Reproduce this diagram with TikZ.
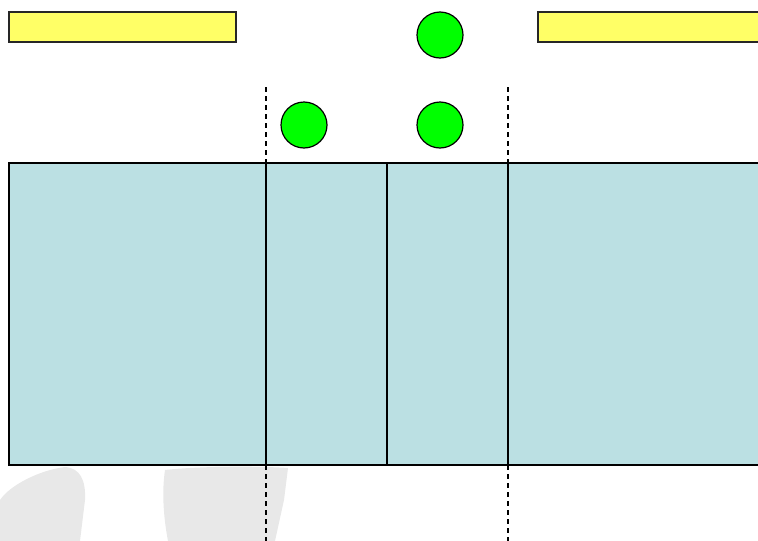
\documentclass[tikz,border=0pt]{standalone}
\begin{document}
\begin{tikzpicture}[x=1pt,y=-1pt,
  bar/.style={draw=black!85,line width=1.2pt,fill=barY},
  ball/.style={circle,draw=black,line width=1.2pt,fill=ballG,minimum size=46pt,inner sep=0pt},
  zone/.style={draw=black,line width=1.2pt,fill=zoneB},
  divider/.style={draw=black,line width=1.2pt},
  guide/.style={draw=black,line width=1.2pt,dash pattern=on 5pt off 4pt},
  blob/.style={fill=black!9,draw=none}]
\definecolor{barY}{HTML}{FFFF66}
\definecolor{ballG}{HTML}{00FF00}
\definecolor{zoneB}{HTML}{BBE0E3}
\useasboundingbox (0,0) rectangle (758,541);
\clip (0,0) rectangle (758,541);
% watermark blobs
\path[blob] (0,500) .. controls (10,485) and (40,470) .. (65,467) .. controls (80,468) and (86,480) .. (85,500) -- (80,541) -- (0,541) -- cycle;
\path[blob] (165,470) .. controls (200,466) and (260,466) .. (288,468) -- (284,500) -- (275,541) -- (168,541) .. controls (163,515) and (162,490) .. (165,470) -- cycle;
% yellow bars
\path[bar] (9,12) rectangle (236,42);
\path[bar] (538,12) rectangle (770,42);
% zones
\path[zone] (9,163) rectangle (770,465);
\coordinate (d1t) at (266,163); \coordinate (d1b) at (266,465);
\coordinate (d2t) at (387,163); \coordinate (d2b) at (387,465);
\coordinate (d3t) at (508,163); \coordinate (d3b) at (508,465);
\draw[divider] (d1t) -- (d1b);
\draw[divider] (d2t) -- (d2b);
\draw[divider] (d3t) -- (d3b);
% guides
\coordinate (g1u) at (266,87); \coordinate (g1d) at (266,541);
\coordinate (g3u) at (508,87); \coordinate (g3d) at (508,541);
\draw[guide] (g1u) -- (d1t);
\draw[guide] (d1b) -- (g1d);
\draw[guide] (g3u) -- (d3t);
\draw[guide] (d3b) -- (g3d);
% balls
\node[ball] (b1) at (440,35) {};
\node[ball] (b2) at (304,125) {};
\node[ball] (b3) at (440,125) {};
\end{tikzpicture}
\end{document}
